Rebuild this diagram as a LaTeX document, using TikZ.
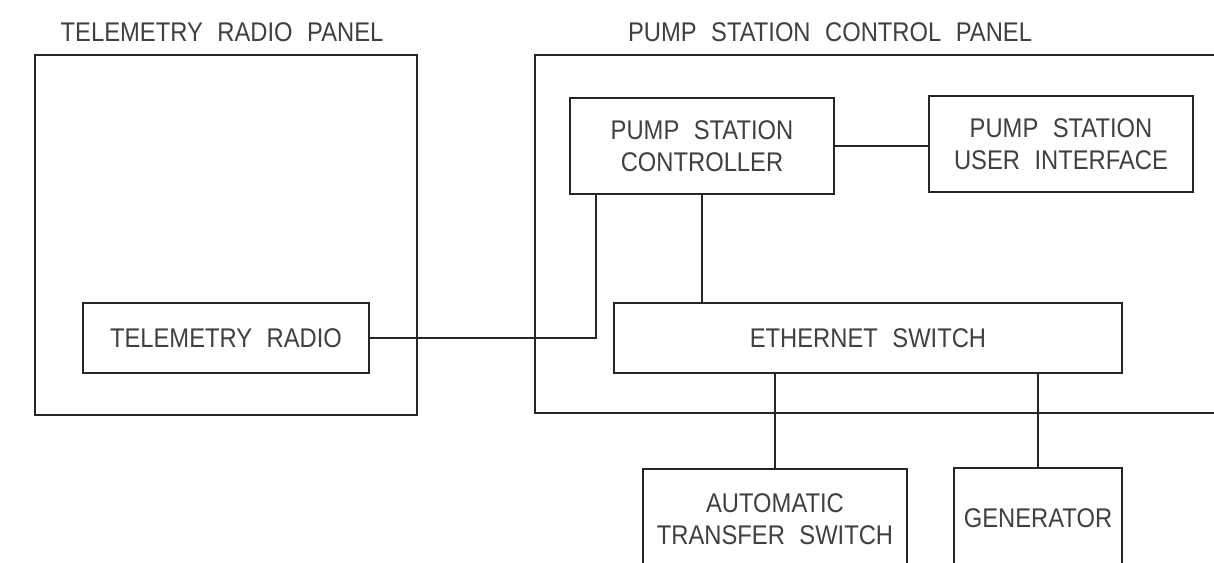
\documentclass[tikz,border=0pt]{standalone}
\usepackage{fontspec}
\setmainfont{Liberation Sans}[FakeStretch=0.88,WordSpace=2.2]
\begin{document}
\begin{tikzpicture}[x=1pt,y=-1pt,
  ln/.style={draw=black!85,line width=1.6pt},
  txt/.style={text=black!75,align=center,inner sep=0pt,
    font=\fontsize{27}{32}\selectfont},
  box/.style={ln,rectangle,inner sep=0pt,txt}]
\useasboundingbox (0,0) rectangle (1214,562);
\fill[white] (0,0) rectangle (1214,562);
% panels
\node[box,minimum width=382pt,minimum height=360pt] (trp) at (226,235) {};
\node[txt] (trpt) at (222,32) {TELEMETRY RADIO PANEL};
\node[box,minimum width=720pt,minimum height=358pt] (pscp) at (895,234) {};
\node[txt] (pscpt) at (830,32) {PUMP STATION CONTROL PANEL};
% boxes
\node[box,minimum width=264pt,minimum height=96pt] (psc) at (702,146) {PUMP STATION\\CONTROLLER};
\node[box,minimum width=264pt,minimum height=96pt] (psui) at (1061,144) {PUMP STATION\\USER INTERFACE};
\node[box,minimum width=286pt,minimum height=70pt] (tr) at (226,338) {TELEMETRY RADIO};
\node[box,minimum width=508pt,minimum height=70pt] (es) at (868,338) {ETHERNET SWITCH};
\node[box,minimum width=264pt,minimum height=200pt] (ats) at (775,569) {};
\node[txt] (atst) at (775,519) {AUTOMATIC\\TRANSFER SWITCH};
\node[box,minimum width=168pt,minimum height=200pt] (gen) at (1038,568) {};
\node[txt] (gent) at (1038,518) {GENERATOR};
% connectors
\draw[ln] (psc.east) -- (psc.east -| psui.west);
\draw[ln] (tr.east) -| ([xshift=-106pt]psc.south);
\draw[ln] (psc.south) -- (psc.south |- es.north);
\draw[ln] (ats.north |- es.south) -- (ats.north);
\draw[ln] (gen.north |- es.south) -- (gen.north);
\end{tikzpicture}
\end{document}
